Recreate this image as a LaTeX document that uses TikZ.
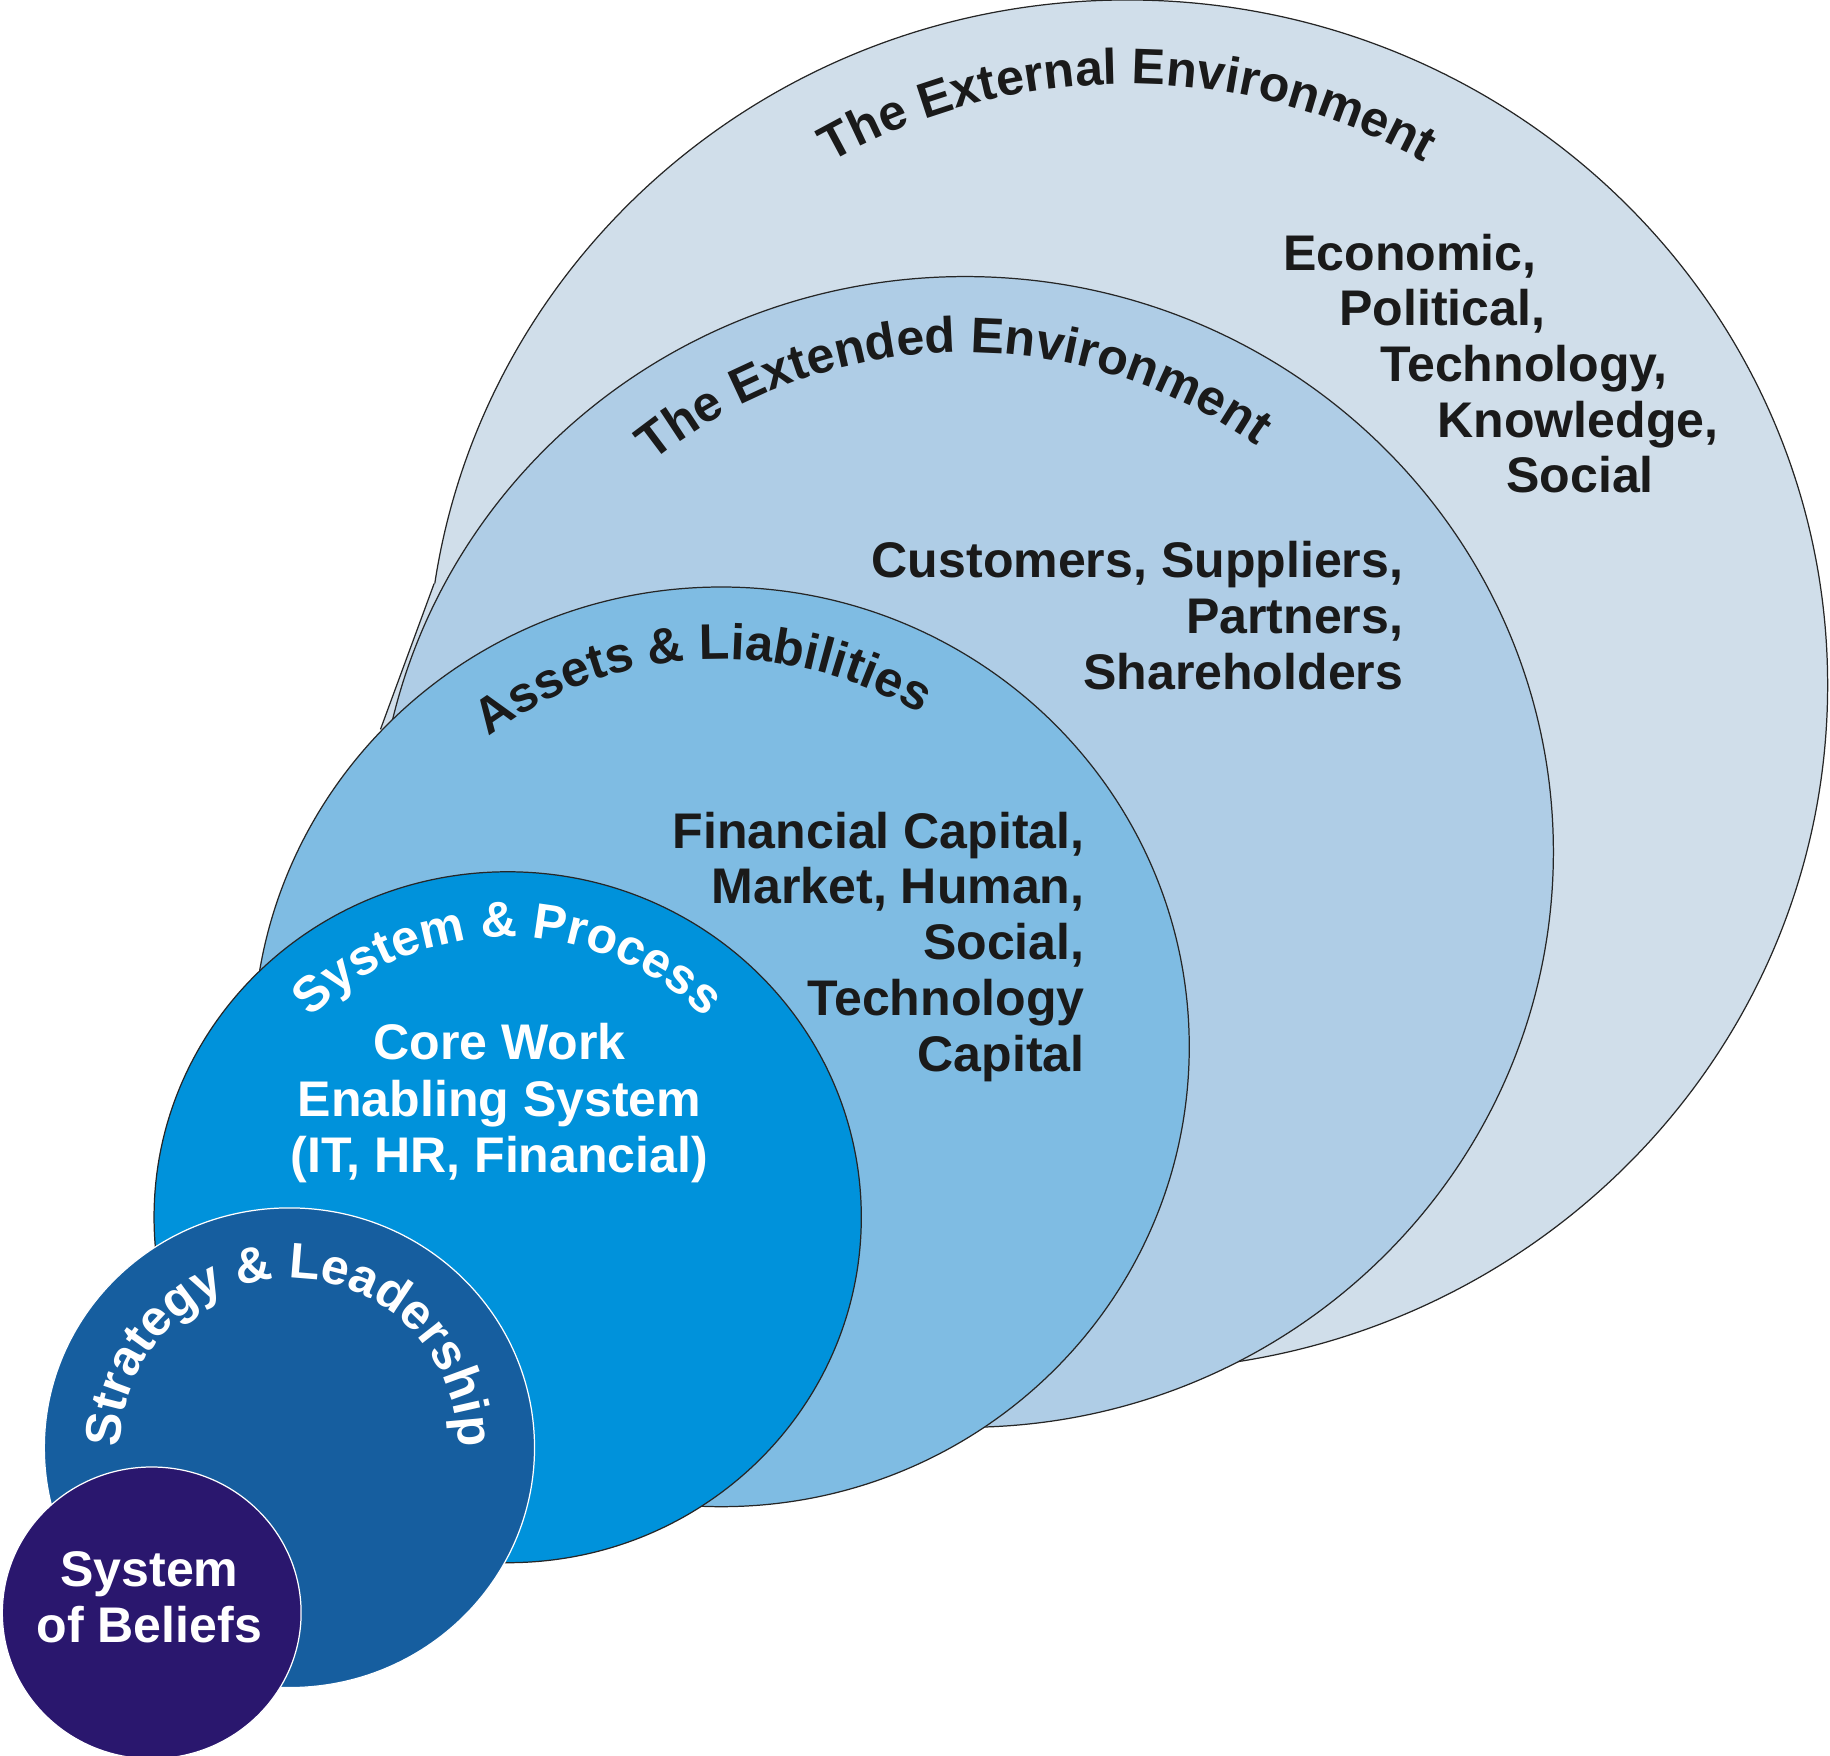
\documentclass[tikz,border=0pt]{standalone}
\usepackage{fontspec}
\setmainfont{Liberation Sans}
\usetikzlibrary{calc,decorations.text}
\definecolor{extcol}{RGB}{208,222,234}
\definecolor{xtdcol}{RGB}{175,205,230}
\definecolor{asscol}{RGB}{127,188,227}
\definecolor{syscol}{RGB}{0,146,219}
\definecolor{strcol}{RGB}{22,94,159}
\definecolor{belcol}{RGB}{42,23,110}
\definecolor{inkcol}{RGB}{26,26,26}
\def\labelfont{\fontsize{12.2pt}{13.6pt}\selectfont\bfseries}
\def\arclabel[#1](#2)(#3:#4:#5)#6{\path[decorate,decoration={text along path,text align=center,text color=#1,text={|\labelfont|#6}}] ($(#2)+({#5*cos(#3)},{#5*sin(#3)})$) arc (#3:#4:#5);}
\tikzset{
	ring/.style={draw=black!85, line width=0.3pt},
	lightring/.style={draw=white, line width=0.3pt},
	darktext/.style={text=inkcol, inner sep=0pt, font=\labelfont},
	lighttext/.style={text=white, inner sep=0pt, font=\labelfont}
}

\begin{document}
\begin{tikzpicture}[x=0.01cm,y=0.01cm]
			%%%%% START %%%%%
			\useasboundingbox (0,0) rectangle (1568,1504);
			
			% external environment
			\draw[ring, fill=extcol] (966,917) ellipse (600 and 587);
			\fill[extcol] (372,1004) -- (326,879) -- (400,879) -- (420,1004) -- cycle;
			\draw[ring] (372,1004) -- (326,879);
			
			% extended environment
			\draw[ring, fill=xtdcol] (827,774) ellipse (504 and 493);
			
			% assets
			\draw[ring, fill=asscol] (618,607) ellipse (401 and 394);
			
			% system and process
			\draw[ring, fill=syscol] (435,461) ellipse (303 and 296);
			
			% strategy
			\draw[lightring, fill=strcol] (248,263.5) ellipse (210 and 205.5);
			
			% beliefs
			\draw[lightring, fill=belcol] (130,122) ellipse (128 and 125);
			
			% curved titles
			\arclabel[inkcol](966,917)(130:50:515){The External Environment}
			\arclabel[inkcol](827,774)(136.5:46.5:428){The Extended Environment}
			\arclabel[inkcol](618,607)(143:43:332){Assets {\&} Liabilities}
			\arclabel[white](435,461)(150:30:240){System {\&} Process}
			\arclabel[white](248,263.5)(200:-20:145){Strategy {\&} Leadership}
			
			% outer text
			\node[darktext, anchor=base west] (econ) at (1099,1272) {Economic,};
			\node[darktext, anchor=base west] (poli) at (1147,1225) {Political,};
			\node[darktext, anchor=base west] (tech) at (1182,1177) {Technology,};
			\node[darktext, anchor=base west] (know) at (1231,1129) {Knowledge,};
			\node[darktext, anchor=base west] (soci) at (1290,1082) {Social};
			
			\node[darktext, anchor=base east] (cust) at (1203,1009) {Customers, Suppliers,};
			\node[darktext, anchor=base east] (part) at (1203,961) {Partners,};
			\node[darktext, anchor=base east] (shar) at (1203,913) {Shareholders};
			
			\node[darktext, anchor=base east] (fina) at (930,777) {Financial Capital,};
			\node[darktext, anchor=base east] (mark) at (930,729.5) {Market, Human,};
			\node[darktext, anchor=base east] (socc) at (930,682) {Social,};
			\node[darktext, anchor=base east] (tecc) at (930,634) {Technology};
			\node[darktext, anchor=base east] (capi) at (930,586) {Capital};
			
			% inner text
			\node[lighttext, anchor=base] (core) at (428,596) {Core Work};
			\node[lighttext, anchor=base] (enab) at (428,547) {Enabling System};
			\node[lighttext, anchor=base] (itfi) at (428,499) {(IT, HR, Financial)};
			
			\node[lighttext, anchor=base] (syst) at (128,145) {System};
			\node[lighttext, anchor=base] (beli) at (128,97) {of Beliefs};
			%%%%% END %%%%%
\end{tikzpicture}
\end{document}
